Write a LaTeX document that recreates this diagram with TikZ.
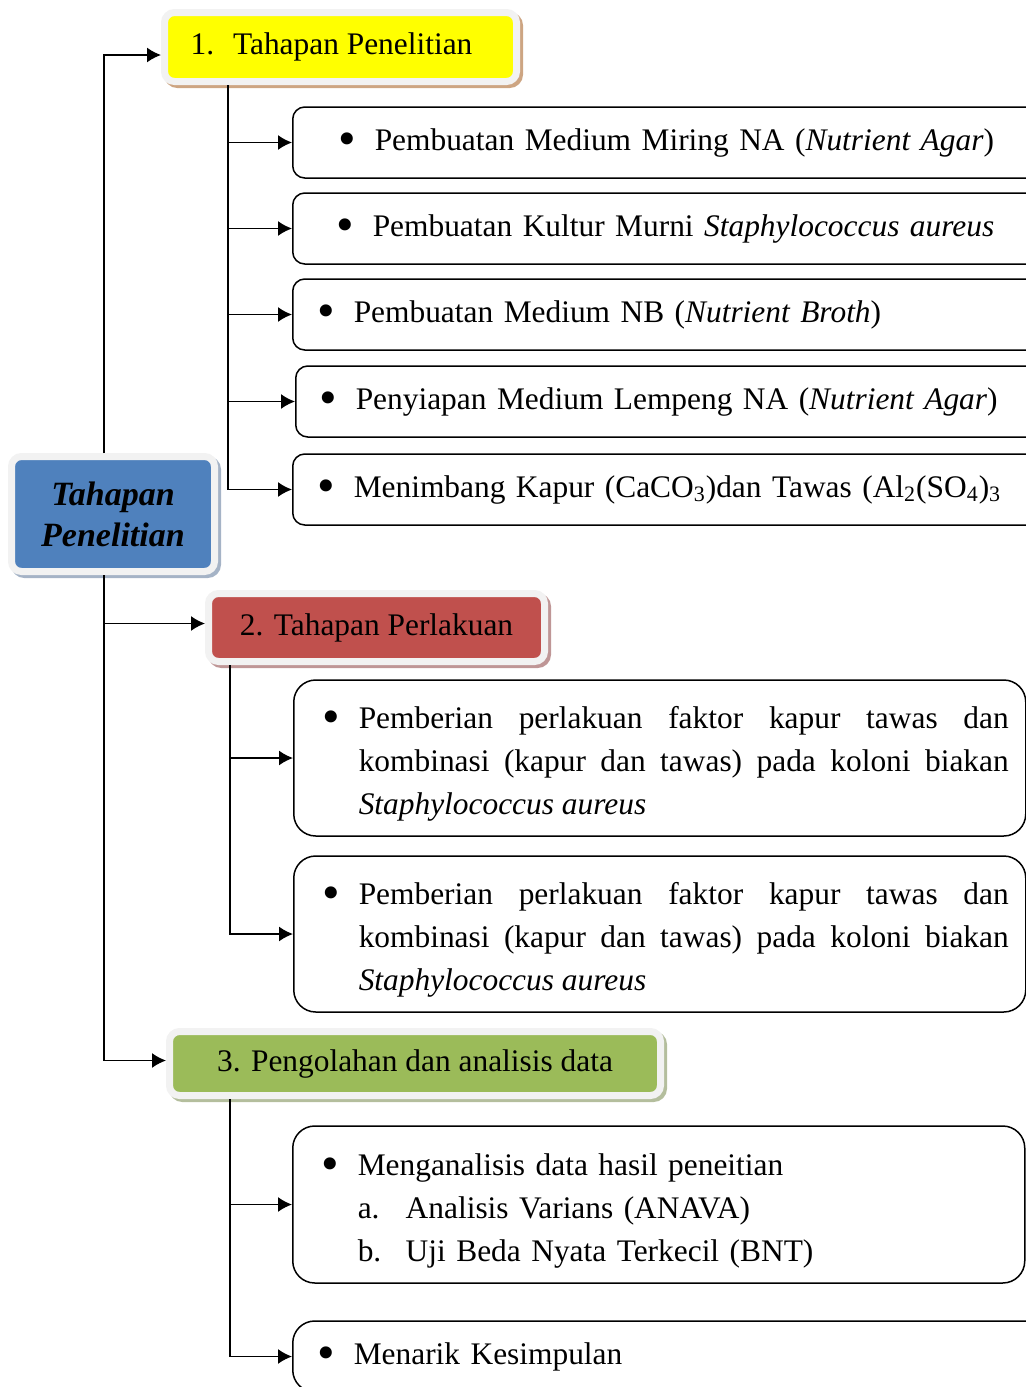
\documentclass[tikz,border=0pt]{standalone}
\usepackage{fontspec}
\setmainfont{Liberation Serif}
\usetikzlibrary{arrows.meta}
\definecolor{frm}{HTML}{F2F2F2}
\definecolor{yel}{HTML}{FFFF00}
\definecolor{yshd}{HTML}{CDA582}
\definecolor{rd}{HTML}{C0504D}
\definecolor{rshd}{HTML}{BF9696}
\definecolor{blu}{HTML}{4F81BD}
\definecolor{bshd}{HTML}{A5B3C6}
\definecolor{grn}{HTML}{9BBB59}
\definecolor{gshd}{HTML}{B4BE9D}
\newcommand{\pnt}{\makebox[18pt][l]{\raisebox{-0.17em}{\scalebox{1.6}{\textbullet}}}}

\begin{document}
\begin{tikzpicture}[x=0.5pt,y=-0.5pt,
  font=\fontsize{15.7}{21.5}\selectfont,
  head/.style 2 args={fill=#1, draw=frm, line width=3.5pt, rounded corners=5pt,
    inner sep=0pt, align=center,
    preaction={draw=#2, line width=3.5pt, transform canvas={shift={(1.5pt,-1.5pt)}}}},
  sub/.style={draw, line width=0.75pt, rounded corners=6pt, anchor=west,
    minimum height=35.5pt, text width=360pt, inner xsep=#1},
  blk/.style={sub=8.5pt, text width=349pt, minimum height=78pt, rounded corners=11pt}]
\useasboundingbox (0,0) rectangle (1026,1387);
\clip (0,0) rectangle (1026,1387);

\coordinate (spine) at (104,0);
\coordinate (b1) at (228,0);
\coordinate (b2) at (230,0);
\coordinate (b3) at (230,0);

\node[head={blu}{bshd}, minimum width=101.5pt, minimum height=57.5pt,
  font=\fontsize{17}{20.5}\selectfont\bfseries\itshape] (main) at (113,514) {Tahapan\\Penelitian};

\node[head={yel}{yshd}, minimum width=176pt, minimum height=34.5pt] (s1) at (340.5,47) {\hspace*{-9pt}1.\hspace{0.6em}Tahapan Penelitian};
\node[head={rd}{rshd}, minimum width=168pt, minimum height=34pt] (s2) at (376.5,627.5) {2. Tahapan Perlakuan};
\node[head={grn}{gshd}, minimum width=245.5pt, minimum height=32pt] (s3) at (415,1063.5) {3. Pengolahan dan analisis data};

% tahapan penelitian
\node[sub=23pt] (i1) at (292,142.5) {\pnt Pembuatan Medium Miring NA (\textit{Nutrient Agar})};
\node[sub=22pt] (i2) at (292,228.5) {\pnt Pembuatan Kultur Murni \textit{Staphylococcus aureus}};
\node[sub=12.5pt] (i3) at (292,314.5) {\pnt Pembuatan Medium NB (\textit{Nutrient Broth})};
\node[sub=12pt] (i4) at (295,401.5) {\pnt Penyiapan Medium Lempeng NA (\textit{Nutrient Agar})};
\node[sub=12.5pt] (i5) at (292,489.5) {\pnt Menimbang Kapur (CaCO\textsubscript{3})dan Tawas (Al\textsubscript{2}(SO\textsubscript{4})\textsubscript{3}};

% tahapan perlakuan
\node[blk, align=justify] (i6) at (293,758)
  {\leftskip=6pt \rightskip=0pt \spaceskip=0pt \xspaceskip=0pt \hangindent=18pt \hangafter=1
   \noindent\rule{0pt}{17pt}\pnt Pemberian perlakuan faktor kapur tawas dan\linebreak
   kombinasi (kapur dan tawas) pada koloni biakan\linebreak \textit{Staphylococcus aureus}\par};
\node[blk, align=justify] (i7) at (293,934)
  {\leftskip=6pt \rightskip=0pt \spaceskip=0pt \xspaceskip=0pt \hangindent=18pt \hangafter=1
   \noindent\rule{0pt}{17pt}\pnt Pemberian perlakuan faktor kapur tawas dan\linebreak
   kombinasi (kapur dan tawas) pada koloni biakan\linebreak \textit{Staphylococcus aureus}\par};

% pengolahan data
\node[blk, minimum height=78.5pt] (i8) at (292,1204.5)
  {\leftskip=6pt \noindent\rule{0pt}{17pt}\pnt Menganalisis data hasil peneitian\newline
   \hspace*{18pt}\makebox[24pt][l]{a.}Analisis Varians (ANAVA)\newline
   \hspace*{18pt}\makebox[24pt][l]{b.}Uji Beda Nyata Terkecil (BNT)\par};
\node[sub=12.5pt, rounded corners=11pt] (i9) at (292,1356.5) {\pnt Menarik Kesimpulan};

\path[draw,thick,->,>={Latex[length=7pt,width=7.5pt]}] (main.north -| spine) |- ([yshift=-4pt]s1.west);
\path[draw,thick,->,>={Latex[length=7pt,width=7.5pt]}] (main.south -| spine) |- ([yshift=2pt]s2.west);
\path[draw,thick,->,>={Latex[length=7pt,width=7.5pt]}] (main.south -| spine) |- ([yshift=1.5pt]s3.west);

\path[draw,thick,->,>={Latex[length=7pt,width=7.5pt]}] (s1.south -| b1) |- (i5.west);
\foreach \n in {1,...,4}
  \path[draw,thick,->,>={Latex[length=7pt,width=7.5pt]}] (b1 |- i\n.west) -- (i\n.west);
\path[draw,thick,->,>={Latex[length=7pt,width=7.5pt]}] (s2.south -| b2) |- (i7.west);
\path[draw,thick,->,>={Latex[length=7pt,width=7.5pt]}] (b2 |- i6.west) -- (i6.west);
\path[draw,thick,->,>={Latex[length=7pt,width=7.5pt]}] (s3.south -| b3) |- (i9.west);
\path[draw,thick,->,>={Latex[length=7pt,width=7.5pt]}] (b3 |- i8.west) -- (i8.west);
\end{tikzpicture}
\end{document}
